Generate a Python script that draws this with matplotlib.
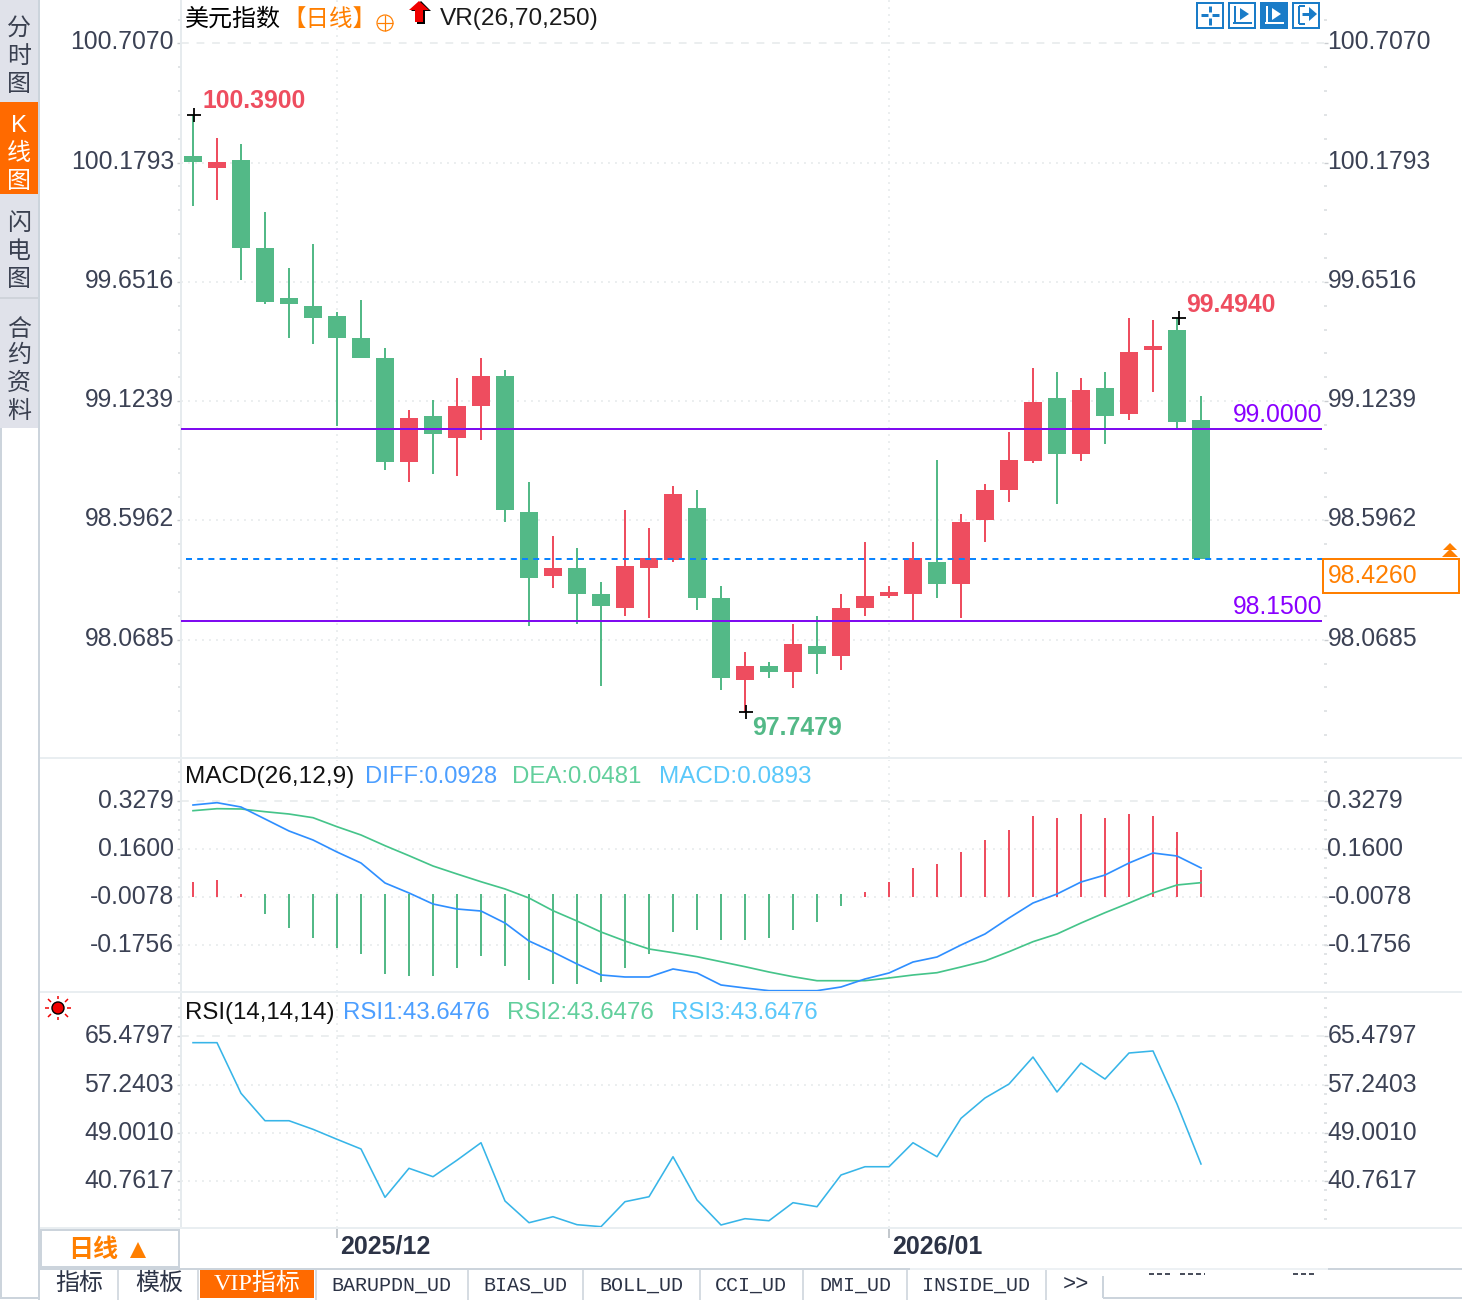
import matplotlib
matplotlib.use("Agg")
import matplotlib.pyplot as plt
from matplotlib.patches import Rectangle, Polygon, Circle
from matplotlib.transforms import ScaledTranslation

plt.rcParams['font.family'] = ['Liberation Sans', 'Noto Sans CJK SC', 'DejaVu Sans']

# ---------- data ----------
opens = [100.209,100.156,100.191,99.802,99.580,99.545,99.501,99.403,99.315,98.855,99.058,98.961,99.102,99.235,
         98.633,98.350,98.386,98.271,98.209,98.386,98.421,98.651,98.253,97.890,97.952,97.925,98.040,97.996,98.209,
         98.262,98.271,98.412,98.315,98.598,98.731,98.859,99.138,98.892,99.182,99.067,99.350,99.439,99.040]
closes = [100.182,100.182,99.802,99.563,99.554,99.492,99.403,99.315,98.855,99.049,98.979,99.102,99.235,98.642,
          98.341,98.386,98.271,98.217,98.395,98.430,98.713,98.253,97.899,97.952,97.925,98.049,98.005,98.209,98.262,
          98.279,98.430,98.315,98.589,98.731,98.864,99.120,98.892,99.173,99.058,99.341,99.368,99.032,98.426]
highs = [100.390,100.288,100.262,99.961,99.713,99.819,99.518,99.572,99.359,99.085,99.129,99.226,99.315,99.262,
         98.766,98.527,98.474,98.324,98.642,98.563,98.748,98.731,98.306,98.014,97.970,98.138,98.173,98.271,98.501,
         98.306,98.501,98.864,98.625,98.757,98.987,99.271,99.253,99.226,99.253,99.492,99.483,99.494,99.147]
lows = [99.987,100.014,99.660,99.554,99.403,99.377,99.014,99.315,98.819,98.766,98.802,98.793,98.952,98.589,
        98.129,98.297,98.138,97.863,98.173,98.164,98.412,98.200,97.846,97.748,97.899,97.855,97.917,97.934,98.173,
        98.253,98.156,98.253,98.164,98.501,98.678,98.850,98.669,98.859,98.934,99.040,99.164,99.005,98.426]
price_ticks = [100.7070, 100.1793, 99.6516, 99.1239, 98.5962, 98.0685]
level_lines = [99.0, 98.15]
last_price = 98.426

macd_hist = [.0435,.0505,.0016,-.0684,-.1174,-.1523,-.1873,-.2083,-.2782,-.2852,-.2852,-.2573,-.2153,-.2503,-.2992,
             -.3132,-.3132,-.3062,-.2573,-.2083,-.1313,-.1243,-.1593,-.1593,-.1523,-.1243,-.0964,-.0404,.0086,.0435,
             .0925,.1065,.1485,.1905,.2254,.2744,.2674,.2814,.2674,.2814,.2744,.2184,.0855]
macd_diff = [.3129,.3210,.3059,.2640,.2220,.1905,.1485,.1100,.0401,.0052,-.0334,-.0509,-.0579,-.0999,-.1628,-.2013,
             -.2432,-.2817,-.2887,-.2887,-.2607,-.2747,-.3167,-.3272,-.3366,-.3366,-.3366,-.3237,-.2957,-.2747,-.2363,
             -.2188,-.1768,-.1383,-.0824,-.0299,.0016,.0435,.0680,.1100,.1450,.1345,.0928]
macd_dea = [.2930,.3000,.2990,.2895,.2814,.2685,.2370,.2080,.1706,.1356,.0995,.0716,.0445,.0192,-.0124,-.0568,-.0929,
            -.1313,-.1628,-.1908,-.2037,-.2177,-.2352,-.2527,-.2713,-.2877,-.3017,-.3017,-.3017,-.2922,-.2817,-.2737,
            -.2537,-.2327,-.2002,-.1652,-.1383,-.0999,-.0638,-.0299,.0052,.0331,.0412]
macd_ticks = [0.3279, 0.1600, -0.0078, -0.1756]

rsi_vals = [64.42,64.42,55.75,51.05,51.05,49.58,47.87,46.21,37.93,42.90,41.46,44.29,47.28,37.30,33.58,34.61,33.24,
            32.90,37.18,38.03,44.88,37.47,33.19,34.27,33.92,37.01,36.32,41.75,43.17,43.17,47.28,44.88,51.46,54.94,
            57.34,61.96,55.97,60.93,58.19,62.65,63.00,53.92,43.64]
rsi_ticks = [65.4797, 57.2403, 49.0010, 40.7617]

date_pos = [6, 29]
date_labels = ['2025/12', '2026/01']
side_tabs = [('分时图', '', [27, 55, 83]), ('K线图', 'w', [124, 152, 180]),
             ('闪电图', '', [222, 250, 278]), ('合约资料', '', [328, 354, 382, 410])]
bottom_tabs = ['BARUPDN_UD', 'BIAS_UD', 'BOLL_UD', 'CCI_UD', 'DMI_UD', 'INSIDE_UD']

# ---------- layout ----------
W, H = 1462, 1300
fig = plt.figure(figsize=(W/100, H/100), dpi=100, facecolor='white')
PT = 0.72
FS = 24.7*PT
XL, XR = 181, 1324
GREEN, RED = '#53b987', '#ee4d5f'
TXT = '#3b4154'
GRID = '#ebeeef'

def make_axes(ytop, ybot):
    ax = fig.add_axes([XL/W, 1-ybot/H, (XR-XL)/W, (ybot-ytop)/H], facecolor='none')
    ax.set_xlim((XL-193)/24, (XR-193)/24)
    for s in ('top', 'right', 'bottom'):
        ax.spines[s].set_visible(False)
    ax.spines['left'].set_color('#e6ebee'); ax.spines['left'].set_linewidth(1.4)
    return ax

def style_y(ax, ticks, labels, lift):
    ax.set_yticks(ticks, labels)
    ax.tick_params(axis='y', which='major', left=True, right=True, labelleft=True, labelright=True,
                   length=3, width=1, color='#c9ccd0', labelsize=FS, labelcolor=TXT, pad=2.4)
    step = ticks[0]-ticks[1]
    lo, hi = ax.get_ylim()
    minor = []
    v = ticks[0]+step
    while v > lo:
        minor.append(v); v -= step/5
    minor = [m for m in minor if lo < m < hi and all(abs(m-t) > 1e-6 for t in ticks)]
    ax.set_yticks(minor, minor=True)
    ax.tick_params(axis='y', which='minor', left=True, right=True, length=2, width=1.2, color='#dcdfe2')
    off_l = ScaledTranslation(0.5/100, lift/100, fig.dpi_scale_trans)
    off_r = ScaledTranslation(-4/100, lift/100, fig.dpi_scale_trans)
    for tick in ax.yaxis.get_major_ticks():
        tick.label1.set_transform(tick.label1.get_transform()+off_l)
        tick.label2.set_transform(tick.label2.get_transform()+off_r)
    ax.set_xticks(date_pos, [''] * len(date_pos))
    ax.tick_params(axis='x', bottom=False, length=0)
    ax.set_axisbelow(True)
    ax.grid(True, axis='both', which='major', color=GRID, lw=1.4, ls=(0, (1, 2.6)))
    ygl = ax.get_ygridlines()
    ygl[0].set_linestyle((0, (4, 4)))

# ---------- price panel ----------
ax = make_axes(0, 758)
ax.set_ylim(100.899-0.004425*758, 100.899)
style_y(ax, price_ticks, [f'{v:.4f}' for v in price_ticks], 3.5)
xs = list(range(len(opens)))
cols = [RED if c > o else GREEN for o, c in zip(opens, closes)]
ax.vlines(xs, lows, highs, colors=cols, lw=2*PT, capstyle='butt', zorder=3)
ax.bar(xs, [abs(c-o) for o, c in zip(opens, closes)], bottom=[min(o, c) for o, c in zip(opens, closes)],
       width=0.75, color=cols, linewidth=0, zorder=3)
for lv in level_lines:
    ax.plot([-0.5, 47.05], [lv, lv], color='#7f0cf0', lw=2*PT, zorder=4, solid_capstyle='butt')
    ax.annotate(f'{lv:.4f}', (47.05, lv), xytext=(0, 14*PT), textcoords='offset points', ha='right', va='center',
                color='#8a00ff', fontsize=FS)
ax.plot([-0.3, 47.05], [last_price]*2, color='#0a84ff', lw=2*PT, ls=(0, (3, 2.6)), zorder=4)
hi_i, lo_i = highs.index(max(highs)), lows.index(min(lows))
ax.plot([hi_i+0.06, 41.08, lo_i+0.03], [highs[hi_i], highs[41], lows[lo_i]], ls='none', marker='+', ms=14*PT,
        mew=1.8*PT, color='black', zorder=6)
ax.annotate('100.3900', (hi_i, highs[hi_i]), xytext=(10, 14), textcoords='offset pixels', color=RED, fontsize=FS,
            va='center', ha='left', fontweight='bold')
ax.annotate('99.4940', (41, highs[41]), xytext=(9, 13), textcoords='offset pixels', color=RED, fontsize=FS,
            va='center', ha='left', fontweight='bold')
ax.annotate('97.7479', (lo_i, lows[lo_i]), xytext=(7, -16), textcoords='offset pixels', color=GREEN, fontsize=FS,
            va='center', ha='left', fontweight='bold')

# ---------- MACD panel ----------
ax2 = make_axes(760, 992)
ax2.set_ylim(3.1288-0.003498*992, 3.1288-0.003498*760)
style_y(ax2, macd_ticks, [f'{v:.4f}' for v in macd_ticks], 2.5)
base = [-0.0078 if v > 0 else 0.0 for v in macd_hist]
ax2.vlines(xs, base, macd_hist, colors=[RED if v > 0 else GREEN for v in macd_hist], lw=2*PT, capstyle='butt', zorder=3)
ax2.plot(xs, macd_dea, color='#45c48a', lw=1.7*PT, zorder=4)
ax2.plot(xs, macd_diff, color='#2f8fff', lw=1.7*PT, zorder=4)

# ---------- RSI panel ----------
ax3 = make_axes(994, 1228)
ax3.set_ylim(243.03-0.1713*1228, 243.03-0.1713*994)
style_y(ax3, rsi_ticks, [f'{v:.4f}' for v in rsi_ticks], 2.5)
ax3.plot(xs, rsi_vals, color='#37b5e8', lw=1.6*PT, zorder=4)
ax3.set_xticks(date_pos, date_labels, ha='left', fontweight='bold')
ax3.tick_params(axis='x', bottom=True, labelbottom=True, length=10*PT, width=1.2, color='#b8bec4',
                labelsize=25*PT, labelcolor='#2c3346', pad=0)
off = ScaledTranslation(3/100, 3/100, fig.dpi_scale_trans)
for lab in ax3.get_xticklabels():
    lab.set_transform(lab.get_transform()+off)

# ---------- chrome ----------
c = fig.add_axes([0, 0, 1, 1], facecolor='none', zorder=5)
c.set_xlim(0, W); c.set_ylim(H, 0); c.axis('off')
ORANGE = '#ff7f00'
BORD = '#ccd4dc'

def rect(x0, y0, x1, y1, fc='none', ec='none', lw=0, **kw):
    c.add_patch(Rectangle((x0, y0), x1-x0, y1-y0, facecolor=fc, edgecolor=ec, linewidth=lw*PT, **kw))

def line(xa, ya, color=BORD, lw=2, **kw):
    c.plot(xa, ya, color=color, lw=lw*PT, solid_capstyle='butt', **kw)

def t(x, y, s, color='black', size=24, ha='left', **kw):
    c.text(x, y+2, s, color=color, fontsize=size*PT, ha=ha, va='center', **kw)

# panel separators across the full width
for y in [758, 992, 1228]:
    line([40, W], [y, y], '#e9eef1', 2)

# left tabs
rect(0, 0, 38, 428, fc='#e0e2ea')
rect(0, 102, 38, 194, fc='#ff6a00')
line([0, 38], [298, 298], '#cfd3da', 2)
line([39, 39], [0, 1300], BORD, 2)
line([1, 1], [428, 1298], BORD, 2)
line([0, 39], [1298, 1298], BORD, 2)
for chars, col, ys in side_tabs:
    for ch, y in zip(chars, ys):
        t(19, y, ch, color='white' if col else '#3a4050', ha='center')

# titles
t(185, 17, '美元指数', size=24)
t(282, 17, '【日线】', color=ORANGE, size=23.5)
c.add_patch(Circle((385, 23), 8, fill=False, ec=ORANGE, lw=1.2*PT))
line([377, 393], [23, 23], ORANGE, 1.2); line([385, 385], [15, 31], ORANGE, 1.2)
c.add_patch(Polygon([[421, 1], [431, 11], [425, 11], [425, 24], [417, 24], [417, 11], [411, 11]], fc='black', ec='none'))
c.add_patch(Polygon([[419, 1], [429, 10], [423, 10], [423, 22], [415, 22], [415, 10], [409, 10]], fc='#f00000', ec='none'))
t(440, 17, 'VR(26,70,250)', size=24.4, color='#1a1a1a')
t(185, 775, 'MACD(26,12,9)', size=24.4, color='#111111')
t(365, 775, 'DIFF:0.0928', color='#4d9fff', size=23.8)
t(512, 775, 'DEA:0.0481', color='#62cf9c')
t(659, 775, 'MACD:0.0893', color='#5ac8fa', size=24.2)
t(185, 1011, 'RSI(14,14,14)', color='#111111')
t(343, 1011, 'RSI1:43.6476', color='#4d9fff')
t(507, 1011, 'RSI2:43.6476', color='#62cf9c')
t(671, 1011, 'RSI3:43.6476', color='#5ac8fa')

# toolbar
BLUE = '#1a7cc8'
for i, x0 in enumerate([1197, 1229, 1261, 1293]):
    rect(x0, 3, x0+26, 28, fc=BLUE if i == 2 else 'white', ec=BLUE, lw=2)
    col = 'white' if i == 2 else BLUE
    if i == 0:
        line([x0+4, x0+11], [15, 15], col, 3); line([x0+15, x0+22], [15, 15], col, 3)
        line([x0+13, x0+13], [6, 12], col, 3); line([x0+13, x0+13], [18, 25], col, 3)
    elif i in (1, 2):
        line([x0+6, x0+6], [6, 23], col, 2); line([x0+4, x0+23], [23, 23], col, 2)
        c.add_patch(Polygon([[x0+11, 8], [x0+20, 14], [x0+11, 20]], fc=col, ec='none'))
    else:
        line([x0+6, x0+6], [6, 24], col, 2); line([x0+6, x0+12], [6, 6], col, 2); line([x0+6, x0+12], [24, 24], col, 2)
        c.add_patch(Polygon([[x0+16, 7], [x0+24, 14], [x0+16, 21]], fc=col, ec='none'))
        line([x0+9, x0+17], [14, 14], col, 3)

# last price tag
rect(1323, 559, 1459, 593, fc='white', ec=ORANGE, lw=2)
t(1328, 574, '98.4260', color=ORANGE, size=24.7)
c.add_patch(Polygon([[1450, 543], [1443, 550], [1457, 550]], fc=ORANGE, ec='none'))
c.add_patch(Polygon([[1450, 549], [1442, 557], [1458, 557]], fc=ORANGE, ec='none'))

# sun icon
c.add_patch(Circle((58, 1008), 6, fc='#f00000', ec='black', lw=1.4*PT))
for dx0, dy0, dx1, dy1 in [(-13, 0, -9, 0), (9, 0, 13, 0), (0, -12, 0, -9), (0, 9, 0, 12),
                           (-10, 9, -7, 6), (7, 6, 10, 9), (-10, -9, -7, -6), (7, -6, 10, -9)]:
    line([58+dx0, 58+dx1], [1008+dy0, 1008+dy1], '#f00000', 1.5)

# bottom
rect(41, 1230, 179, 1267, fc='white', ec=BORD, lw=2)
t(68, 1248, '日线', color=ORANGE, size=25, fontweight='bold')
c.add_patch(Polygon([[138, 1242], [130, 1258], [146, 1258]], fc=ORANGE, ec='none'))
line([40, 910], [1269, 1269], BORD, 2)
line([910, 1328], [1269, 1269], '#edf1f4', 2)
line([1328, 1462], [1269, 1269], BORD, 2)
line([1103, 1462], [1298, 1298], BORD, 2)
line([1103, 1103], [1276, 1298], BORD, 2)
line([1149, 1170], [1274, 1274], '#4a4f5c', 2, ls=(0, (2.5, 1.5)))
line([1180, 1205], [1274, 1274], '#4a4f5c', 2, ls=(0, (2.5, 1.5)))
line([1293, 1316], [1274, 1274], '#4a4f5c', 2, ls=(0, (2.5, 1.5)))
rect(200, 1270, 314, 1298, fc='#ff6a00')
for x in [118, 198, 316, 468, 583, 700, 803, 907, 1046]:
    line([x, x], [1270, 1300], BORD, 1.6)
t(79, 1282, '指标', color='#2c3346', ha='center', size=24)
t(159, 1282, '模板', color='#2c3346', ha='center', size=24)
t(257, 1282, 'VIP指标', color='white', ha='center', size=24, family=['Liberation Serif', 'Noto Sans CJK SC'])
for s, xc in zip(bottom_tabs, [391, 525, 641, 751, 855, 976]):
    t(xc, 1283, s, color='#2c3346', ha='center', size=20, family=['Liberation Mono'])
t(1076, 1282, '>>', color='#2c3346', ha='center', size=22, family=['Liberation Mono'])

fig.savefig('out.png', dpi=100)
